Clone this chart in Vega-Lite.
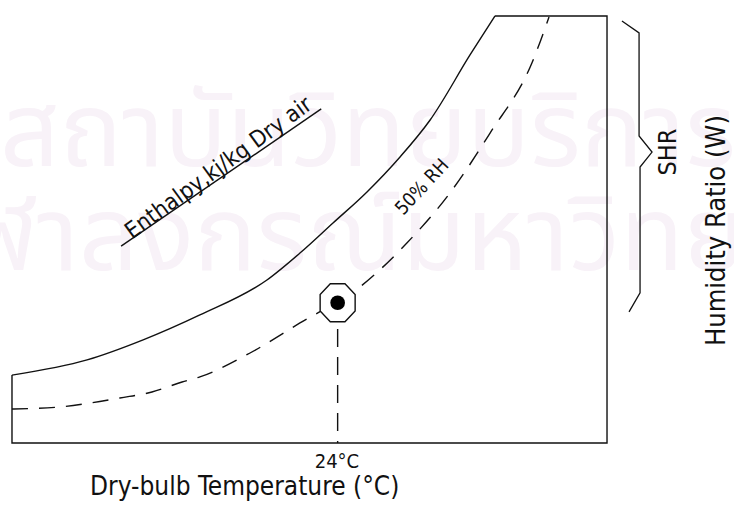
{
  "$schema": "https://vega.github.io/schema/vega-lite/v6.json",
  "width": 734,
  "height": 511,
  "autosize": {"type": "none"},
  "padding": 0,
  "background": "white",
  "config": {"view": {"stroke": null}, "axis": {"disable": true}},
  "datasets": {
    "solid": [
      {"T": 10.69, "W": 6.65}, {"T": 13.76, "W": 7.39}, {"T": 16.05, "W": 8.37},
      {"T": 18.37, "W": 9.59}, {"T": 21.11, "W": 11.30}, {"T": 22.46, "W": 12.62},
      {"T": 23.81, "W": 14.09}, {"T": 25.20, "W": 15.61}, {"T": 26.55, "W": 17.32},
      {"T": 27.78, "W": 19.13}, {"T": 29.41, "W": 22.31}, {"T": 30.43, "W": 24.22}
    ],
    "frame": [
      {"o": 1, "T": 30.43, "W": 24.22}, {"o": 2, "T": 35.01, "W": 24.22},
      {"o": 3, "T": 35.01, "W": 3.33}, {"o": 4, "T": 10.69, "W": 3.33},
      {"o": 5, "T": 10.69, "W": 6.65}
    ],
    "rh50": [
      {"T": 10.69, "W": 4.99}, {"T": 12.65, "W": 5.09}, {"T": 13.88, "W": 5.28},
      {"T": 15.10, "W": 5.53}, {"T": 16.41, "W": 5.82}, {"T": 17.64, "W": 6.31},
      {"T": 18.37, "W": 6.56}, {"T": 20.42, "W": 7.73}, {"T": 22.46, "W": 9.20},
      {"T": 24.91, "W": 10.96}, {"T": 26.83, "W": 13.11}, {"T": 28.59, "W": 15.56},
      {"T": 30.23, "W": 18.49}, {"T": 31.94, "W": 21.92}, {"T": 32.64, "W": 24.17}
    ],
    "drop": [{"T": 24.0, "W": 8.90}, {"T": 24.0, "W": 3.33}],
    "brace": [
      {"o": 1, "T": 35.62, "W": 23.97}, {"o": 2, "T": 36.32, "W": 23.39},
      {"o": 3, "T": 36.32, "W": 18.35}, {"o": 4, "T": 36.85, "W": 17.56},
      {"o": 5, "T": 36.36, "W": 16.83}, {"o": 6, "T": 36.36, "W": 10.67},
      {"o": 7, "T": 35.91, "W": 9.74}
    ],
    "underline": [{"T": 15.15, "W": 12.96}, {"T": 23.33, "W": 19.67}],
    "state": [{"T": 24.0, "W": 10.19}],
    "wm1": [{"label": "สถาบันวิทยบริการ", "T": 10.2, "W": 18.4}],
    "wm2": [{"label": "จุฬาลงกรณ์มหาวิทยาลัย", "T": 6.6, "W": 13.3}],
    "lblEnth": [{"label": "Enthalpy,kj/kg Dry air", "T": 19.30, "W": 16.50}],
    "lblRH": [{"label": "50% RH", "T": 27.45, "W": 15.85}],
    "lbl24": [{"label": "24°C", "T": 23.97, "W": 2.42}],
    "lblX": [{"label": "Dry-bulb Temperature (°C)", "T": 13.88, "W": 0.78}],
    "lblSHR": [{"label": "SHR", "T": 37.50, "W": 17.56}],
    "lblY": [{"label": "Humidity Ratio (W)", "T": 39.50, "W": 13.72}]
  },
  "encoding": {
    "x": {"field": "T", "type": "quantitative", "scale": {"domain": [10.2, 40.2], "nice": false, "zero": false}, "axis": null},
    "y": {"field": "W", "type": "quantitative", "scale": {"domain": [0, 25], "nice": false, "zero": false}, "axis": null}
  },
  "layer": [
    {"data": {"name": "wm1"}, "mark": {"type": "text", "fontSize": 104, "color": "#f8f2f8", "align": "left", "baseline": "middle", "font": "Noto Sans Thai, Noto Sans, DejaVu Sans"}, "encoding": {"text": {"field": "label"}}},
    {"data": {"name": "wm2"}, "mark": {"type": "text", "fontSize": 104, "color": "#f8f2f8", "align": "left", "baseline": "middle", "font": "Noto Sans Thai, Noto Sans, DejaVu Sans"}, "encoding": {"text": {"field": "label"}}},
    {"data": {"name": "solid"}, "mark": {"type": "line", "interpolate": "monotone", "color": "#111", "strokeWidth": 1.4}, "encoding": {}},
    {"data": {"name": "frame"}, "mark": {"type": "line", "color": "#111", "strokeWidth": 1.4}, "encoding": {"order": {"field": "o"}}},
    {"data": {"name": "rh50"}, "mark": {"type": "line", "interpolate": "monotone", "color": "#111", "strokeWidth": 1.4, "strokeDash": [16, 11]}, "encoding": {}},
    {"data": {"name": "drop"}, "mark": {"type": "line", "color": "#111", "strokeWidth": 1.4, "strokeDash": [18, 10]}, "encoding": {}},
    {"data": {"name": "brace"}, "mark": {"type": "line", "color": "#111", "strokeWidth": 1.3}, "encoding": {"order": {"field": "o"}}},
    {"data": {"name": "underline"}, "mark": {"type": "line", "color": "#111", "strokeWidth": 1.4}, "encoding": {}},
    {"data": {"name": "state"}, "mark": {"type": "point", "shape": "M-0.42,-1.086L0.42,-1.086L1,-0.47L1,0.47L0.42,1.086L-0.42,1.086L-1,0.47L-1,-0.47Z", "size": 1225, "filled": false, "fill": "white", "fillOpacity": 1, "stroke": "#111", "strokeWidth": 1.4, "opacity": 1}, "encoding": {}},
    {"data": {"name": "state"}, "mark": {"type": "point", "shape": "circle", "size": 215, "filled": true, "color": "#000", "opacity": 1}, "encoding": {}},
    {"data": {"name": "lblEnth"}, "mark": {"type": "text", "fontSize": 23, "angle": -36, "align": "center", "baseline": "alphabetic", "color": "#111", "font": "DejaVu Sans Condensed, Liberation Sans Narrow, DejaVu Sans"}, "encoding": {"text": {"field": "label"}}},
    {"data": {"name": "lblRH"}, "mark": {"type": "text", "fontSize": 19, "angle": -47, "align": "center", "baseline": "middle", "color": "#111", "font": "DejaVu Sans Condensed, Liberation Sans Narrow, DejaVu Sans"}, "encoding": {"text": {"field": "label"}}},
    {"data": {"name": "lbl24"}, "mark": {"type": "text", "fontSize": 20, "align": "center", "baseline": "middle", "color": "#111", "font": "DejaVu Sans Condensed, Liberation Sans Narrow, DejaVu Sans"}, "encoding": {"text": {"field": "label"}}},
    {"data": {"name": "lblX"}, "mark": {"type": "text", "fontSize": 26, "align": "left", "baseline": "alphabetic", "color": "#111", "font": "DejaVu Sans Condensed, Liberation Sans Narrow, DejaVu Sans"}, "encoding": {"text": {"field": "label"}}},
    {"data": {"name": "lblSHR"}, "mark": {"type": "text", "fontSize": 25, "angle": -90, "align": "center", "baseline": "middle", "color": "#111", "font": "DejaVu Sans Condensed, Liberation Sans Narrow, DejaVu Sans"}, "encoding": {"text": {"field": "label"}}},
    {"data": {"name": "lblY"}, "mark": {"type": "text", "fontSize": 27, "angle": -90, "align": "center", "baseline": "middle", "color": "#111", "font": "DejaVu Sans Condensed, Liberation Sans Narrow, DejaVu Sans"}, "encoding": {"text": {"field": "label"}}}
  ]
}
